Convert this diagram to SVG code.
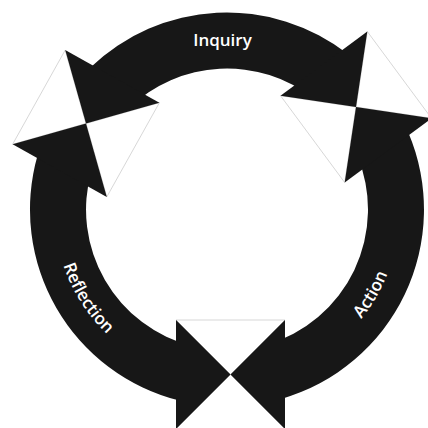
<svg xmlns="http://www.w3.org/2000/svg" width="428" height="428" viewBox="0 0 428 428">
  <style>
    .band { fill: #171717; }
    .head { fill: #171717; }
    .gap { fill: #ffffff; stroke: #d2d2d2; stroke-width: 0.9; }
    .label { fill: #ffffff; font-family: "Open Sans", "Liberation Sans", sans-serif; font-size: 17px; font-weight: 600; }
  </style>
  <defs>
    <path id="pathReflection" d="M 64.4,150.3 A 173 173 0 0 0 211.9,381.8"/>
    <path id="pathAction" d="M 257.0,379.9 A 173 173 0 0 0 390.6,153.2"/>
  </defs>
  <rect width="428" height="428" fill="#ffffff"/>

  <g id="inquiry">
    <path class="band" d="M 90.1,67.8 A 197 197 0 0 1 348.3,54.3 L 313.8,98.4 A 141 141 0 0 0 129.1,108.1 Z"/>
    <text class="label" x="222.5" y="46" text-anchor="middle">Inquiry</text>
  </g>

  <g id="action">
    <path class="band" d="M 408.3,132.5 A 197 197 0 0 1 281.3,398.9 L 265.9,345.0 A 141 141 0 0 0 356.8,154.4 Z"/>
    <text class="label"><textPath href="#pathAction" startOffset="50%" text-anchor="middle">Action</textPath></text>
  </g>

  <g id="reflection">
    <path class="band" d="M 179.3,400.6 A 197 197 0 0 1 37.6,155.2 L 91.5,170.6 A 141 141 0 0 0 192.9,346.3 Z"/>
    <text class="label"><textPath href="#pathReflection" startOffset="50%" text-anchor="middle">Reflection</textPath></text>
  </g>

  <g id="connectors">
    <!-- top-left junction -->
    <g id="junction-top-left">
      <polygon class="gap" points="65.2,50.1 12.6,144.3 86,123.5"/>
      <polygon class="gap" points="159.4,102.7 106.8,196.9 86,123.5"/>
      <polygon class="head" points="65.2,50.1 159.4,102.7 86,123.5"/>
      <polygon class="head" points="106.8,196.9 12.6,144.3 86,123.5"/>
    </g>
    <!-- top-right junction -->
    <g id="junction-top-right">
      <polygon class="gap" points="367.3,31.5 431.5,118.3 356,107"/>
      <polygon class="gap" points="280.5,95.7 344.7,182.5 356,107"/>
      <polygon class="head" points="280.5,95.7 367.3,31.5 356,107"/>
      <polygon class="head" points="431.5,118.3 344.7,182.5 356,107"/>
    </g>
    <!-- bottom junction -->
    <g id="junction-bottom">
      <polygon class="gap" points="176,320 285,320 230.5,374.5"/>
      <polygon class="gap" points="176,429 285,429 230.5,374.5"/>
      <polygon class="head" points="176,320 176,429 230.5,374.5"/>
      <polygon class="head" points="285,320 285,429 230.5,374.5"/>
    </g>
  </g>
</svg>
